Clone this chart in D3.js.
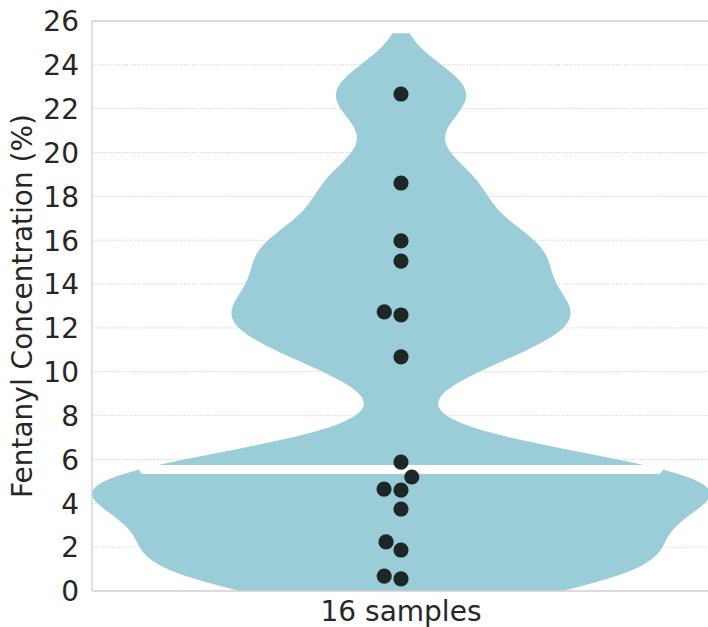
<!DOCTYPE html>
<html>
<head>
<meta charset="utf-8">
<script src="https://cdn.jsdelivr.net/npm/d3@7"></script>
<style>
  body { margin: 0; background: #fff; }
  text { font-family: "DejaVu Sans", sans-serif; fill: #262626; }
</style>
</head>
<body>
<div id="chart"></div>
<script>
// values (Fentanyl %, one per sample)
var category = ["16 samples"];
var samples = [22.67, 18.61, 15.97, 15.05, 12.73, 12.59, 10.68, 5.88,
               5.2, 4.65, 4.6, 3.74, 2.24, 1.87, 0.68, 0.55];
var yTicks = [0, 2, 4, 6, 8, 10, 12, 14, 16, 18, 20, 22, 24, 26];
var yLabel = "Fentanyl Concentration (%)";

var W = 708, H = 627;
var margin = {top: 21, left: 92, right: -2, bottom: 36};

var svg = d3.select("#chart").append("svg")
    .attr("width", W).attr("height", H);

var x = d3.scaleBand().domain(category)
    .range([margin.left, W - margin.right]);
var y = d3.scaleLinear().domain([0, 26])
    .range([H - margin.bottom, margin.top]);

svg.append("defs").append("clipPath").attr("id", "plotclip")
  .append("rect")
    .attr("x", margin.left).attr("y", margin.top)
    .attr("width", W - margin.right - margin.left)
    .attr("height", H - margin.bottom - margin.top);

// grid (dotted)
svg.append("g").selectAll("line").data(yTicks.slice(1, -1))
  .enter().append("line")
    .attr("x1", margin.left).attr("x2", W)
    .attr("y1", d => y(d)).attr("y2", d => y(d))
    .attr("stroke", "#c8c8c8").attr("stroke-width", 1)
    .attr("stroke-dasharray", "1,1.7");

// kde: bw = 0.2 * std, cut = 2 bandwidths
var sd = d3.deviation(samples);
var bw = 0.2 * sd;
function kde(v) {
  return d3.sum(samples, s => Math.exp(-0.5 * Math.pow((v - s) / bw, 2)))
    / (samples.length * bw * Math.sqrt(2 * Math.PI));
}
var lo = d3.min(samples) - 2 * bw, hi = d3.max(samples) + 2 * bw;
var grid = d3.range(0, 201).map(i => lo + (hi - lo) * i / 200);
var dens = grid.map(v => ({v: v, d: kde(v)}));
var dmax = d3.max(dens, d => d.d);
var cx = x(category[0]) + x.bandwidth() / 2;
var w = d3.scaleLinear().domain([0, dmax]).range([0, x.bandwidth() / 2]);

var area = d3.area()
    .x0(d => cx - w(d.d)).x1(d => cx + w(d.d))
    .y(d => y(d.v));

var plot = svg.append("g").attr("clip-path", "url(#plotclip)");
plot.append("path").datum(dens)
    .attr("d", area)
    .attr("fill", "#96cad7").attr("fill-opacity", 0.95);

// median line
var med = d3.median(samples);
var mw = w(kde(med));
plot.append("line")
    .attr("x1", cx - mw + 4.5).attr("x2", cx + mw - 4.5)
    .attr("y1", y(med)).attr("y2", y(med))
    .attr("stroke", "#fff").attr("stroke-width", 9)
    .attr("stroke-linecap", "round");

// swarm placement
var dia = 17;
var placed = [];
samples.slice().sort((a, b) => a - b).forEach(function(v) {
  var py = y(v);
  var near = placed.filter(p => Math.abs(p.y - py) < dia);
  var cands = [0];
  near.forEach(function(p) {
    var dx = Math.sqrt(dia * dia - Math.pow(p.y - py, 2));
    cands.push(p.off - dx, p.off + dx);
  });
  cands.sort((a, b) => Math.abs(a) - Math.abs(b) || a - b);
  var off = cands.find(c => near.every(p =>
      Math.pow(p.off - c, 2) + Math.pow(p.y - py, 2) >= dia * dia - 0.01));
  placed.push({v: v, y: py, off: off});
});

plot.append("g").selectAll("circle").data(placed)
  .enter().append("circle")
    .attr("cx", d => cx + d.off)
    .attr("cy", d => d.y)
    .attr("r", 7.6)
    .attr("fill", "#1d2727");

// spines
svg.append("line").attr("x1", margin.left).attr("x2", margin.left)
    .attr("y1", margin.top).attr("y2", H - margin.bottom)
    .attr("stroke", "#cfcfcf").attr("stroke-width", 1.3);
svg.append("line").attr("x1", margin.left).attr("x2", W)
    .attr("y1", H - margin.bottom).attr("y2", H - margin.bottom)
    .attr("stroke", "#cfcfcf").attr("stroke-width", 1.3);
svg.append("line").attr("x1", margin.left).attr("x2", W)
    .attr("y1", margin.top).attr("y2", margin.top)
    .attr("stroke", "#cfcfcf").attr("stroke-width", 1.3);

// axes
var yAxis = svg.append("g")
    .attr("transform", "translate(" + margin.left + ",0)")
    .call(d3.axisLeft(y).tickValues(yTicks).tickSize(0).tickPadding(13));
yAxis.select(".domain").remove();
yAxis.selectAll("text").style("font-size", "28px").attr("dy", "0.35em");

var xAxis = svg.append("g")
    .attr("transform", "translate(0," + (H - margin.bottom) + ")")
    .call(d3.axisBottom(x).tickSize(0).tickPadding(10));
xAxis.select(".domain").remove();
xAxis.selectAll("text").style("font-size", "28px");

svg.append("text")
    .attr("transform", "translate(32," + ((margin.top + H - margin.bottom) / 2) + ") rotate(-90)")
    .attr("text-anchor", "middle")
    .style("font-size", "28px")
    .text(yLabel);
</script>
</body>
</html>
